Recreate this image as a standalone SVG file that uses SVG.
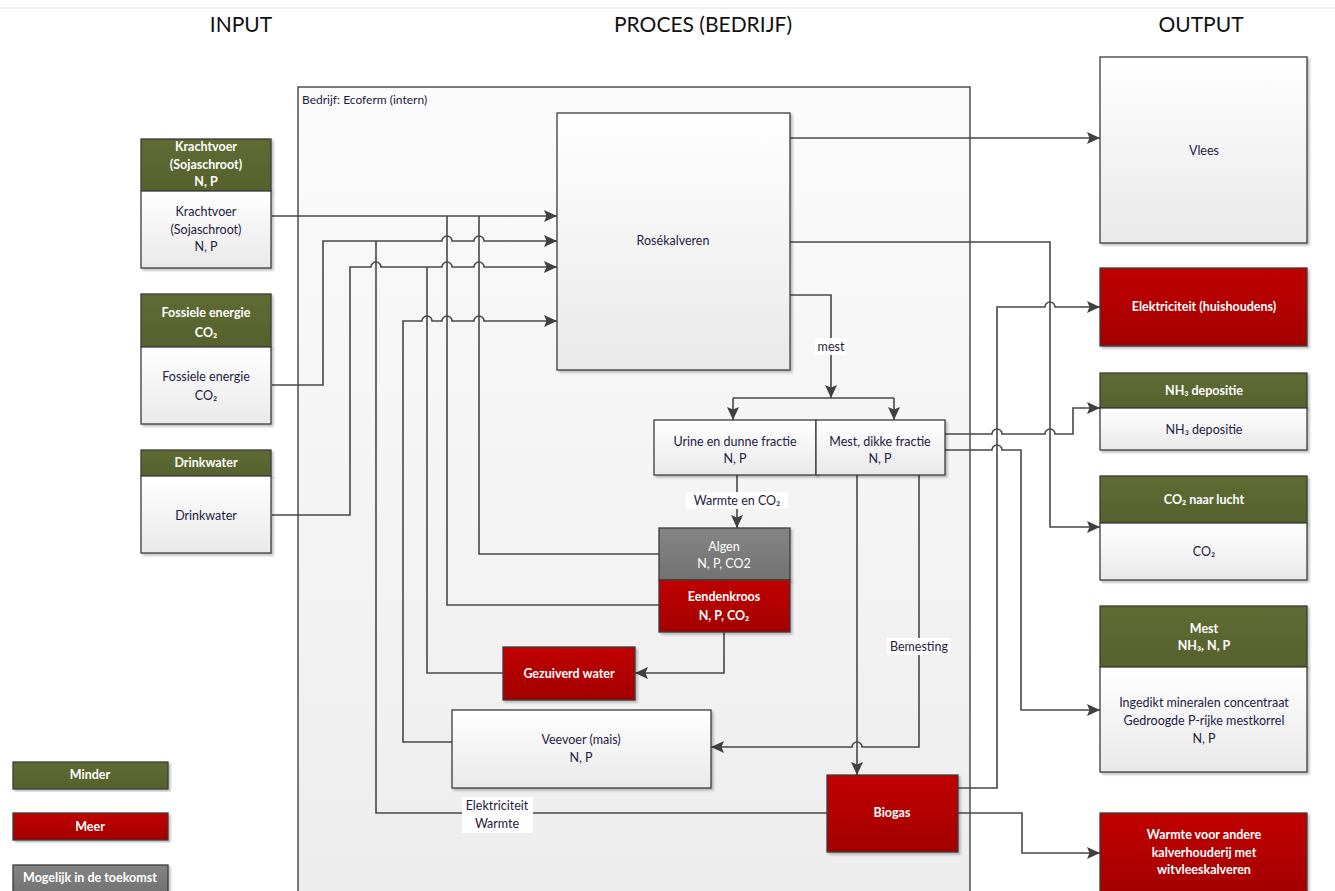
<svg xmlns="http://www.w3.org/2000/svg" width="1335" height="891" viewBox="0 0 1335 891">
<defs>
<linearGradient id="gWhite" x1="0" y1="0" x2="0" y2="1"><stop offset="0" stop-color="#ffffff"/><stop offset="1" stop-color="#e9e9e9"/></linearGradient>
<linearGradient id="gCont" x1="0" y1="0" x2="0" y2="1"><stop offset="0" stop-color="#fbfbfb"/><stop offset="1" stop-color="#ededed"/></linearGradient>
<linearGradient id="gRed" x1="0" y1="0" x2="0" y2="1"><stop offset="0" stop-color="#c00000"/><stop offset="1" stop-color="#a30000"/></linearGradient>
<linearGradient id="gGreen" x1="0" y1="0" x2="0" y2="1"><stop offset="0" stop-color="#5e6b33"/><stop offset="1" stop-color="#56622d"/></linearGradient>
<linearGradient id="gGray" x1="0" y1="0" x2="0" y2="1"><stop offset="0" stop-color="#858585"/><stop offset="1" stop-color="#727272"/></linearGradient>
<marker id="arr" markerWidth="13" markerHeight="12" refX="13" refY="6" orient="auto" markerUnits="userSpaceOnUse"><path d="M0,0 L13,6 L0,12 L2.5,6 z" fill="#404040"/></marker>
<filter id="sh" x="-5%" y="-5%" width="115%" height="115%"><feDropShadow dx="2" dy="2" stdDeviation="1.2" flood-color="#000" flood-opacity="0.25"/></filter>
</defs>
<style>
.t{font-family:Lato,"Liberation Sans",sans-serif;font-size:12.5px;fill:#1e2040;text-anchor:middle}
.w{font-family:Lato,"Liberation Sans",sans-serif;font-size:12.5px;fill:#ffffff;font-weight:bold;text-anchor:middle}
.h{font-family:Lato,"Liberation Sans",sans-serif;font-size:21px;fill:#111;text-anchor:middle}
.box{stroke:#3c3c3c;stroke-width:1.3;filter:url(#sh)}
.wb{fill:url(#gWhite)}
.rb{fill:url(#gRed)}
.gb{fill:url(#gGreen)}
.yb{fill:url(#gGray)}
.c{fill:none;stroke:#484848;stroke-width:1.6}
.a{marker-end:url(#arr)}
.lb{fill:#ffffff}
</style>
<rect width="1335" height="891" fill="#ffffff"/>
<line x1="0" y1="8" x2="1335" y2="8" stroke="#e4e4e4" stroke-width="1"/>
<text class="h" x="241" y="32">INPUT</text>
<text class="h" x="703" y="32">PROCES (BEDRIJF)</text>
<text class="h" x="1201" y="32">OUTPUT</text>

<g id="bedrijf">
<rect x="298" y="87" width="672" height="815" fill="url(#gCont)" stroke="#333" stroke-width="1.3"/>
<text x="302" y="104" style="font-family:Lato,'Liberation Sans',sans-serif;font-size:12px;fill:#1e2040">Bedrijf: Ecoferm (intern)</text>
</g>

<g id="connectors">
<path class="c a" d="M272,216 H557"/>
<path class="c a" d="M272,385 H323 V241 H442 A5,5 0 0 1 452,241 H474 A5,5 0 0 1 484,241 H557"/>
<path class="c a" d="M272,515 H350 V267 H371 A5,5 0 0 1 381,267 H442 A5,5 0 0 1 452,267 H474 A5,5 0 0 1 484,267 H557"/>
<path class="c a" d="M452,742 H403 V321 H422 A5,5 0 0 1 432,321 H442 A5,5 0 0 1 452,321 H474 A5,5 0 0 1 484,321 H557"/>
<path class="c" d="M659,554 H479 V216"/>
<path class="c" d="M659,605 H447 V216"/>
<path class="c" d="M503,673 H427 V267"/>
<path class="c" d="M827,813 H376 V241"/>
<path class="c a" d="M790,138 H1100"/>
<path class="c a" d="M790,242 H1050 V527 H1100"/>
<path class="c a" d="M790,295 H831 V398"/>
<path class="c" d="M733,398 H894"/>
<path class="c a" d="M733,398 V420"/>
<path class="c a" d="M894,398 V420"/>
<path class="c a" d="M737,475 V528"/>
<path class="c a" d="M724,632 V673 H635"/>
<path class="c a" d="M857,475 V775"/>
<path class="c a" d="M919,475 V747 H862 A5,5 0 0 0 852,747 H711"/>
<path class="c a" d="M945,434 H992 A5,5 0 0 1 1002,434 H1045 A5,5 0 0 1 1055,434 H1073 V408 H1100"/>
<path class="c a" d="M945,450 H992 A5,5 0 0 1 1002,450 H1021 V710 H1100"/>
<path class="c a" d="M958,788 H997 V307 H1045 A5,5 0 0 1 1055,307 H1100"/>
<path class="c a" d="M958,813 H1022 V853 H1100"/>
<rect class="lb" x="815" y="338" width="32" height="17"/>
<text class="t" x="831" y="351">mest</text>
<rect class="lb" x="686" y="492" width="102" height="17"/>
<text class="t" x="737" y="505">Warmte  en CO₂</text>
<rect class="lb" x="887" y="638" width="64" height="17"/>
<text class="t" x="919" y="651">Bemesting</text>
<rect class="lb" x="462" y="797" width="71" height="36"/>
<text class="t" x="497" y="810">Elektriciteit</text>
<text class="t" x="497" y="828">Warmte</text>
</g>

<g id="krachtvoer">
<rect class="box gb" x="141" y="139" width="130" height="52"/>
<rect class="box wb" x="141" y="191" width="130" height="77"/>
<text class="w" x="206" y="151">Krachtvoer</text>
<text class="w" x="206" y="169">(Sojaschroot)</text>
<text class="w" x="206" y="186">N, P</text>
<text class="t" x="206" y="216">Krachtvoer</text>
<text class="t" x="206" y="234">(Sojaschroot)</text>
<text class="t" x="206" y="251">N, P</text>
</g>

<g id="fossiele-energie">
<rect class="box gb" x="141" y="294" width="130" height="53"/>
<rect class="box wb" x="141" y="347" width="130" height="77"/>
<text class="w" x="206" y="317">Fossiele energie</text>
<text class="w" x="206" y="337">CO₂</text>
<text class="t" x="206" y="381">Fossiele energie</text>
<text class="t" x="206" y="400">CO₂</text>
</g>

<g id="drinkwater">
<rect class="box gb" x="141" y="450" width="130" height="26"/>
<rect class="box wb" x="141" y="476" width="130" height="77"/>
<text class="w" x="206" y="467">Drinkwater</text>
<text class="t" x="206" y="520">Drinkwater</text>
</g>

<g id="rosekalveren">
<rect class="box wb" x="557" y="113" width="233" height="257"/>
<text class="t" x="673" y="245">Rosékalveren</text>
</g>

<g id="urine">
<rect class="box wb" x="654" y="420" width="162" height="55"/>
<text class="t" x="735" y="446">Urine en dunne fractie</text>
<text class="t" x="735" y="463">N, P</text>
</g>

<g id="mest-dikke">
<rect class="box wb" x="816" y="420" width="129" height="55"/>
<text class="t" x="880" y="446">Mest, dikke fractie</text>
<text class="t" x="880" y="463">N, P</text>
</g>

<g id="algen">
<rect class="box yb" x="659" y="528" width="131" height="52"/>
<text class="w" x="724" y="551" style="font-weight:normal">Algen</text>
<text class="w" x="724" y="568" style="font-weight:normal">N, P, CO2</text>
</g>

<g id="eendenkroos">
<rect class="box rb" x="659" y="580" width="131" height="52"/>
<text class="w" x="724" y="601">Eendenkroos</text>
<text class="w" x="724" y="620">N, P, CO₂</text>
</g>

<g id="gezuiverd-water">
<rect class="box rb" x="503" y="647" width="132" height="53"/>
<text class="w" x="569" y="678">Gezuiverd water</text>
</g>

<g id="veevoer">
<rect class="box wb" x="452" y="710" width="259" height="78"/>
<text class="t" x="581" y="744">Veevoer (mais)</text>
<text class="t" x="581" y="762">N, P</text>
</g>

<g id="biogas">
<rect class="box rb" x="827" y="775" width="131" height="77"/>
<text class="w" x="892" y="817">Biogas</text>
</g>

<g id="vlees">
<rect class="box wb" x="1100" y="57" width="207" height="186"/>
<text class="t" x="1204" y="155">Vlees</text>
</g>

<g id="elektriciteit">
<rect class="box rb" x="1100" y="268" width="207" height="78"/>
<text class="w" x="1204" y="311">Elektriciteit (huishoudens)</text>
</g>

<g id="nh3">
<rect class="box gb" x="1100" y="373" width="207" height="35"/>
<rect class="box wb" x="1100" y="408" width="207" height="42"/>
<text class="w" x="1204" y="395">NH₃ depositie</text>
<text class="t" x="1204" y="434">NH₃ depositie</text>
</g>

<g id="co2">
<rect class="box gb" x="1100" y="476" width="207" height="47"/>
<rect class="box wb" x="1100" y="523" width="207" height="57"/>
<text class="w" x="1204" y="504">CO₂ naar lucht</text>
<text class="t" x="1204" y="556">CO₂</text>
</g>

<g id="mest-out">
<rect class="box gb" x="1100" y="606" width="207" height="61"/>
<rect class="box wb" x="1100" y="667" width="207" height="105"/>
<text class="w" x="1204" y="633">Mest</text>
<text class="w" x="1204" y="650">NH₃, N, P</text>
<text class="t" x="1204" y="707">Ingedikt mineralen concentraat</text>
<text class="t" x="1204" y="725">Gedroogde P-rijke mestkorrel</text>
<text class="t" x="1204" y="743">N, P</text>
</g>

<g id="warmte-out">
<rect class="box rb" x="1100" y="813" width="207" height="85"/>
<text class="w" x="1204" y="839">Warmte voor andere</text>
<text class="w" x="1204" y="857">kalverhouderij met</text>
<text class="w" x="1204" y="874">witvleeskalveren</text>
</g>

<g id="legend-minder">
<rect class="box gb" x="13" y="762" width="155" height="27"/>
<text class="w" x="90" y="779">Minder</text>
</g>
<g id="legend-meer">
<rect class="box rb" x="13" y="813" width="155" height="27"/>
<text class="w" x="90" y="831">Meer</text>
</g>
<g id="legend-mogelijk">
<rect class="box yb" x="13" y="865" width="155" height="28"/>
<text class="w" x="90" y="882">Mogelijk in de toekomst</text>
</g>
</svg>
